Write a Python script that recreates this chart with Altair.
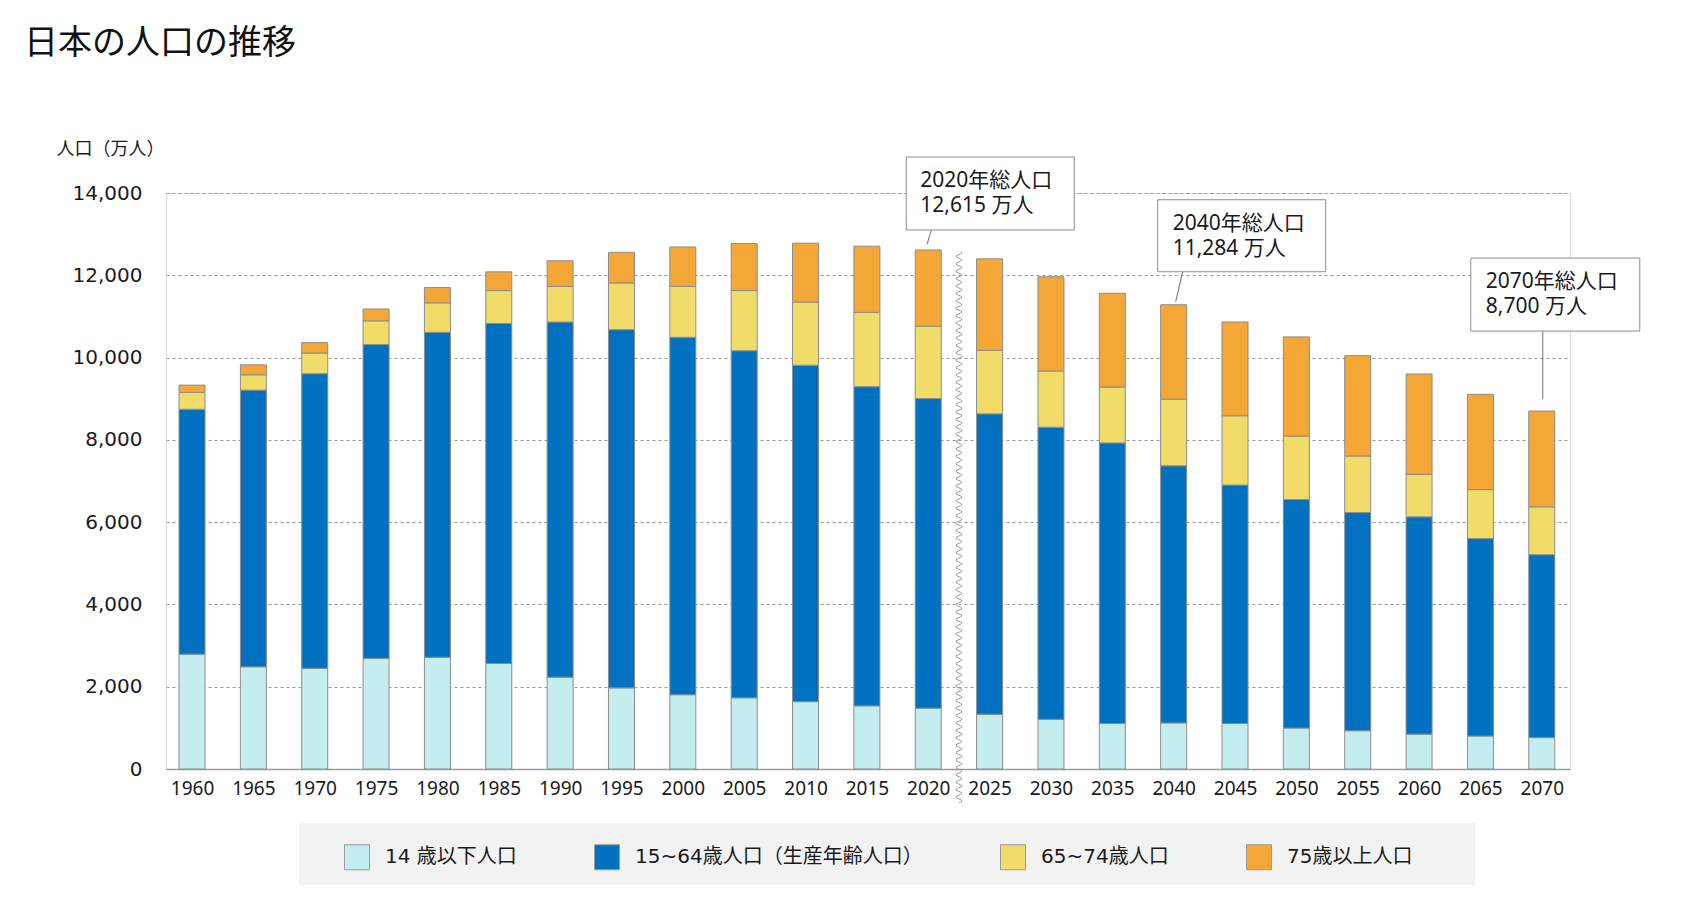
import altair as alt
import numpy as np
import pandas as pd

# ---------------- data (万人) ----------------
YEARS = [1960, 1965, 1970, 1975, 1980, 1985, 1990, 1995, 2000, 2005, 2010, 2015,
         2020, 2025, 2030, 2035, 2040, 2045, 2050, 2055, 2060, 2065, 2070]
U14 = [2791, 2484, 2447, 2688, 2716, 2567, 2233, 1972, 1805, 1730, 1637, 1535,
       1479, 1330, 1209, 1107, 1120, 1107, 995, 930, 847, 800, 763]
A15_64 = [5953, 6725, 7162, 7628, 7898, 8261, 8632, 8707, 8688, 8437, 8177, 7758,
          7526, 7303, 7098, 6819, 6250, 5795, 5554, 5303, 5283, 4800, 4446]
A65_74 = [409, 372, 503, 577, 716, 800, 865, 1135, 1237, 1461, 1535, 1805,
          1758, 1544, 1367, 1358, 1620, 1684, 1544, 1376, 1033, 1191, 1163]
A75 = [177, 242, 251, 288, 372, 456, 623, 744, 958, 1144, 1432, 1609,
       1852, 2223, 2289, 2279, 2294, 2279, 2409, 2438, 2437, 2316, 2328]

GROUPS = ["14 歳以下人口", "15~64歳人口（生産年齢人口）", "65~74歳人口", "75歳以上人口"]
COLORS = ["#c4edf0", "#0070c0", "#f1dc6a", "#f4a637"]

ANNOT_YEARS = [2020, 2040, 2070]
ANNOT_LINE1 = ["2020年総人口", "2040年総人口", "2070年総人口"]
ANNOT_LINE2 = ["12,615 万人", "11,284 万人", "8,700 万人"]

TITLE = "日本の人口の推移"
Y_TITLE = "人口（万人）"

# ---------------- layout / style ----------------
FONT = "Noto Sans, Noto Sans CJK JP, sans-serif"
FONT_WIDE = "DejaVu Sans, Noto Sans CJK JP, sans-serif"
TEXT_COLOR = "#1a1a1a"
PLOT_W, PLOT_H = 1404, 576
X_DOMAIN = [1957.88, 2072.3]
Y_DOMAIN = [0, 14000]

# annotation placement, pixels relative to the top of the annotated bar
ANNOT_LAYOUT = [
    {"box": (-22, 146, -93, -20), "leader": (3, -20, -1, -6), "text": (-8, -69)},
    {"box": (-16, 152, -105, -33), "leader": (9, -33, 2, -3), "text": (-1, -81)},
    {"box": (-71, 98, -153, -80), "leader": (1, -80, 1, -12), "text": (-56, -129)},
]

# break mark between 2020 and 2025
WAVE_X = 2022.5
WAVE_Y_RANGE = (-817, 12576)
WAVE_PERIOD = 180.0
WAVE_AMP = 0.25

# ---------------- tables ----------------
series = [U14, A15_64, A65_74, A75]
rows = []
for k, (g, vals) in enumerate(zip(GROUPS, series)):
    for yr, v in zip(YEARS, vals):
        rows.append({"year": yr, "value": v, "group": g, "k": k})
df = pd.DataFrame(rows)

totals = {yr: sum(s[i] for s in series) for i, yr in enumerate(YEARS)}

wy = np.arange(WAVE_Y_RANGE[0], WAVE_Y_RANGE[1], WAVE_PERIOD / 10.0)
wave_df = pd.DataFrame({
    "year": WAVE_X + WAVE_AMP * np.sin(2 * np.pi * (wy - wy[0]) / WAVE_PERIOD),
    "value": wy,
    "i": np.arange(len(wy)),
})

x_scale = alt.Scale(domain=X_DOMAIN, nice=False, zero=False, padding=0)
y_scale = alt.Scale(domain=Y_DOMAIN, nice=False)

X_AXIS = alt.Axis(
    values=YEARS, format="d", title=None, grid=False, ticks=False,
    domainColor="#9a9a9a", domainWidth=1.5, labelFont=FONT, labelFontSize=19,
    labelColor=TEXT_COLOR, labelPadding=10, labelFlush=False,
)
Y_AXIS = alt.Axis(
    values=list(range(0, 14001, 2000)), format=",d", title=Y_TITLE,
    titleAngle=0, titleAlign="left", titleBaseline="middle", titleX=-110,
    titleY=-44, titleFont=FONT, titleFontSize=18, titleFontWeight="normal",
    titleColor=TEXT_COLOR, domain=False, ticks=False, grid=True,
    gridDash=[3, 3], gridColor="#9a9a9a", gridWidth=1, labelFont=FONT_WIDE,
    labelFontSize=20, labelColor=TEXT_COLOR, labelPadding=24,
)


def xq(field):
    return alt.X(field, type="quantitative", scale=x_scale, axis=X_AXIS)


def yq(field):
    return alt.Y(field, type="quantitative", scale=y_scale, axis=Y_AXIS)


bars = alt.Chart(df).mark_bar(width=26, stroke="#8c8c8c", strokeWidth=1).encode(
    x=xq("year"),
    y=alt.Y("value:Q", stack="zero", scale=y_scale, axis=Y_AXIS),
    color=alt.Color(
        "group:N",
        scale=alt.Scale(domain=GROUPS, range=COLORS),
        legend=alt.Legend(
            title=None, orient="none", direction="horizontal", columns=4,
            legendX=178, legendY=651, padding=0, symbolType="square",
            symbolSize=625, symbolStrokeColor="#9a9a9a", symbolStrokeWidth=1,
            labelFont=FONT_WIDE, labelFontSize=20, labelColor=TEXT_COLOR,
            labelOffset=15, columnPadding=75, labelLimit=500,
        ),
    ),
    order=alt.Order("k:Q", sort="ascending"),
)

wave = alt.Chart(wave_df).mark_line(color="#999999", strokeWidth=1).encode(
    x=xq("year"), y=yq("value"), order="i:Q"
)

one = pd.DataFrame({"a": [0]})
legend_bg = alt.Chart(one).mark_rect(color="#f2f2f2").encode(
    x=alt.value(133), x2=alt.value(1309), y=alt.value(630), y2=alt.value(692)
)
title = alt.Chart(one).mark_text(
    text=TITLE, font=FONT, fontSize=34, color="#111", align="left", baseline="middle"
).encode(x=alt.value(-142), y=alt.value(-149))

layers = [legend_bg, title, bars, wave]

for yr, l1, l2, lay in zip(ANNOT_YEARS, ANNOT_LINE1, ANNOT_LINE2, ANNOT_LAYOUT):
    adf = pd.DataFrame({"year": [yr], "total": [totals[yr]], "l1": [l1], "l2": [l2]})
    base = alt.Chart(adf)
    bx0, bx1, by0, by1 = lay["box"]
    lx0, ly0, lx1, ly1 = lay["leader"]
    tx, ty = lay["text"]
    box = base.mark_rect(
        fill="white", stroke="#8c8c8c", strokeWidth=1,
        xOffset=bx0, x2Offset=bx1, yOffset=by0, y2Offset=by1,
    ).encode(x=xq("year"), x2="year:Q", y=yq("total"), y2="total:Q")
    leader = base.mark_rule(
        color="#707070", strokeWidth=1,
        xOffset=lx0, x2Offset=lx1, yOffset=ly0, y2Offset=ly1,
    ).encode(x=xq("year"), x2="year:Q", y=yq("total"), y2="total:Q")
    t1 = base.mark_text(
        align="left", baseline="middle", dx=tx, dy=ty, font=FONT, fontSize=21,
        color=TEXT_COLOR,
    ).encode(x=xq("year"), y=yq("total"), text="l1:N")
    t2 = base.mark_text(
        align="left", baseline="middle", dx=tx, dy=ty + 25, font=FONT, fontSize=21,
        color=TEXT_COLOR,
    ).encode(x=xq("year"), y=yq("total"), text="l2:N")
    layers += [leader, box, t1, t2]

chart = alt.layer(*layers).properties(
    width=PLOT_W, height=PLOT_H,
    autosize=alt.AutoSizeParams(type="none"),
    padding={"left": 158, "top": 185, "right": 120, "bottom": 132},
).configure_view(stroke=None).configure(background="white")

chart.save("out.html", embed_options={"renderer": "svg", "actions": False})
